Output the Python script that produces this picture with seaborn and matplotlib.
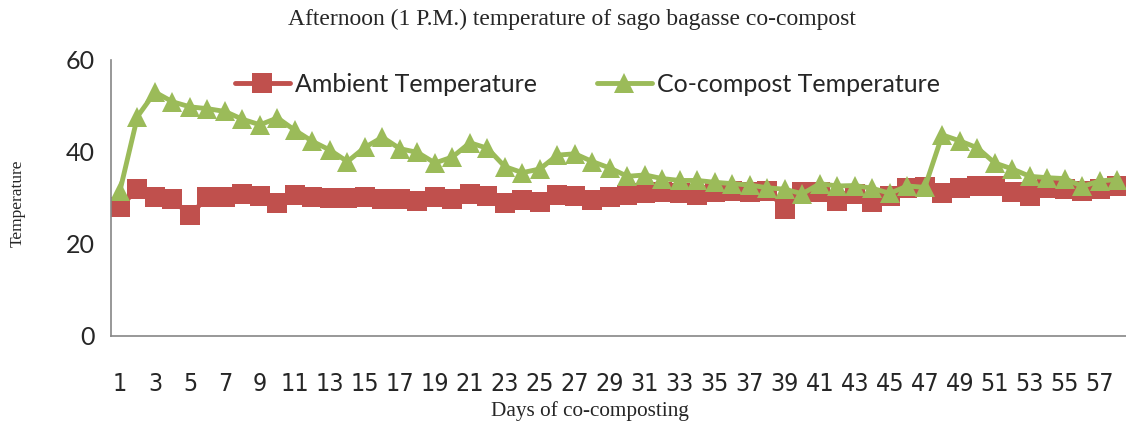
import pandas as pd
import seaborn as sns
import matplotlib.pyplot as plt

# Days of co-composting and afternoon temperatures
days = list(range(1, 59))

ambient_temp = [
    28.1, 31.9, 30.1, 29.7, 26.2, 30.3, 30.1, 30.9, 30.5, 29.0,
    30.6, 30.3, 30.0, 30.0, 30.3, 29.8, 29.8, 29.4, 30.1, 29.7,
    30.8, 30.5, 28.8, 29.5, 29.2, 30.6, 30.4, 29.6, 30.3, 30.6,
    31.0, 31.2, 31.0, 30.6, 31.3, 31.5, 31.3, 31.6, 27.7, 31.3,
    31.3, 29.3, 30.8, 29.1, 30.4, 32.2, 32.3, 31.0, 32.2, 32.6,
    32.6, 31.3, 30.5, 32.2, 31.9, 31.5, 32.0, 32.5
]

cocompost_temp = [
    31.6, 47.7, 53.0, 50.9, 49.8, 49.4, 48.8, 47.1, 45.9, 47.4,
    44.7, 42.3, 40.4, 37.9, 41.0, 43.2, 40.7, 39.9, 37.6, 38.9,
    42.0, 40.8, 36.8, 35.5, 36.3, 39.3, 39.6, 37.9, 36.5, 34.7,
    35.0, 34.2, 33.8, 33.8, 33.4, 33.1, 32.8, 32.2, 31.9, 30.9,
    33.1, 32.6, 32.7, 32.1, 31.0, 32.6, 32.3, 43.7, 42.4, 40.9,
    37.6, 36.3, 34.7, 34.4, 34.2, 32.5, 33.7, 34.0
]

series_names = ["Ambient Temperature", "Co-compost Temperature"]
tick_days = list(range(1, 58, 2))
y_ticks = [0, 20, 40, 60]

df = pd.DataFrame({
    "Day": days * 2,
    "Temperature": ambient_temp + cocompost_temp,
    "Series": [series_names[0]] * len(days) + [series_names[1]] * len(days),
})

sns.set_style("white")

fig = plt.figure(figsize=(11.26, 4.28), dpi=100)
ax = fig.add_axes([0.0988, 0.215, 0.9012, 0.645])

sns.lineplot(
    data=df, x="Day", y="Temperature", hue="Series", style="Series",
    palette={series_names[0]: "#C0504D", series_names[1]: "#9BBB59"},
    markers={series_names[0]: "s", series_names[1]: "^"},
    dashes=False, linewidth=3.5, markersize=14, markeredgewidth=0,
    ax=ax,
)

ax.set_xlim(0.5, 58.5)
ax.set_ylim(0, 60)
ax.set_xticks(tick_days)
ax.set_xticklabels([str(d) for d in tick_days], family="DejaVu Sans",
                   fontstretch="condensed", fontsize=18)
ax.set_yticks(y_ticks)
ax.set_yticklabels([str(v) for v in y_ticks], family="Lato", fontsize=18)
ax.tick_params(axis="x", length=0, pad=26)
ax.tick_params(axis="y", length=0, pad=12)
ax.set_xlabel("")
ax.set_ylabel("")

for side in ["top", "right"]:
    ax.spines[side].set_visible(False)
for side in ["left", "bottom"]:
    ax.spines[side].set_color("#868686")
    ax.spines[side].set_linewidth(1.2)

ax.legend(
    loc="upper center", bbox_to_anchor=(0.469, 1.035), ncol=2, frameon=False,
    prop={"family": "Lato", "size": 18}, handlelength=2.2, columnspacing=2.4,
    handletextpad=0.2,
)

fig.text(0.508, 0.955, "Afternoon (1 P.M.) temperature of sago bagasse co-compost",
         ha="center", va="center", family="Liberation Serif", fontsize=17)
fig.text(0.524, 0.04, "Days of co-composting", ha="center", va="center",
         family="Liberation Serif", fontsize=15.3)
fig.text(0.016, 0.525, "Temperature", ha="center", va="center", rotation=90,
         family="Liberation Serif", fontsize=12.5)

fig.savefig("out.png", dpi=100)
